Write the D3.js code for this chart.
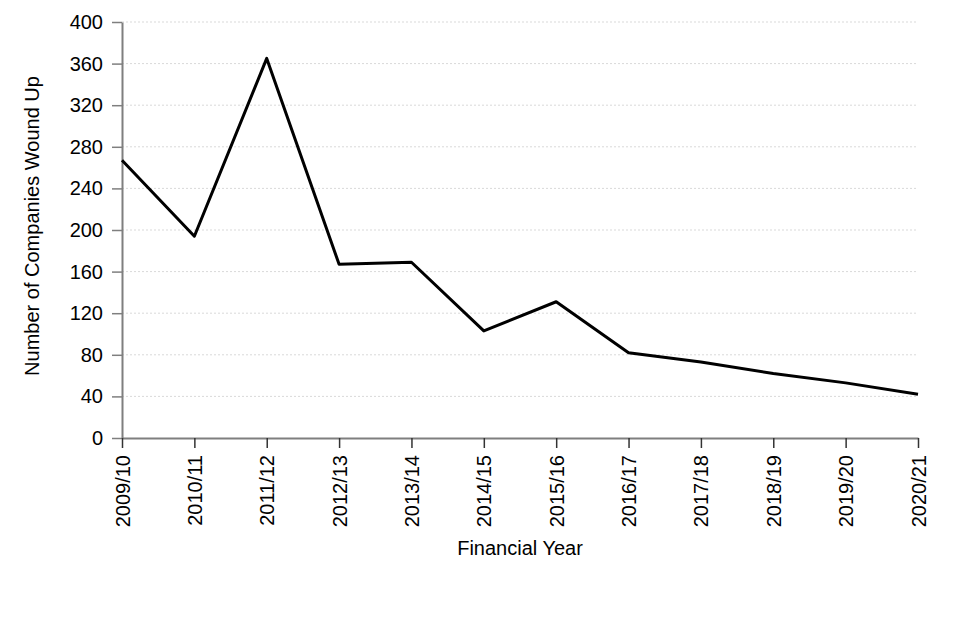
<!DOCTYPE html>
<html><head><meta charset="utf-8">
<script src="https://cdn.jsdelivr.net/npm/d3@7"></script>
<style>body{margin:0;background:#fff}svg{display:block}text{font-family:"Liberation Sans",Arial,sans-serif;fill:#000}</style>
</head><body><svg id="c" width="960" height="640"></svg>
<script>
const years = ["2009/10","2010/11","2011/12","2012/13","2013/14","2014/15","2015/16","2016/17","2017/18","2018/19","2019/20","2020/21"];
const companies = [267, 194, 365, 167, 169, 103, 131, 82, 73, 62, 53, 42];
const yTicks = [0,40,80,120,160,200,240,280,320,360,400];

const svg = d3.select("#c");
const L=122,R=918,T=22,B=438, fs=20;
const x = d3.scalePoint().domain(years).range([L,R]);
const y = d3.scaleLinear().domain([0,400]).range([B,T]);

svg.append("g").selectAll("line").data(yTicks.filter(d=>d>0)).join("line")
  .attr("x1",L).attr("x2",R).attr("y1",d=>y(d)).attr("y2",d=>y(d))
  .attr("stroke","#d9d9d9").attr("stroke-dasharray","2,2").attr("stroke-width",1);

const ya = svg.append("g").attr("transform",`translate(${L},0)`)
  .call(d3.axisLeft(y).tickValues(yTicks).tickSize(10).tickPadding(9).tickSizeOuter(0));
ya.attr("font-size",fs).attr("font-family","Liberation Sans, Arial, sans-serif");
ya.select(".domain").attr("stroke","#7f7f7f").attr("stroke-width",2);
ya.selectAll(".tick line").attr("stroke","#7f7f7f").attr("stroke-width",1.5);
ya.selectAll("text").attr("fill","#000");

const xa = svg.append("g").attr("transform",`translate(0,${B})`)
  .call(d3.axisBottom(x).tickSize(10).tickSizeOuter(0));
xa.attr("font-size",fs).attr("font-family","Liberation Sans, Arial, sans-serif");
xa.select(".domain").attr("stroke","#7f7f7f").attr("stroke-width",2);
xa.selectAll(".tick line").attr("stroke","#333").attr("stroke-width",1.5);
xa.selectAll("text").attr("fill","#000")
  .attr("transform","rotate(-90)").attr("text-anchor","end").attr("x",-17).attr("y",0).attr("dy","0.35em");

svg.append("path").datum(companies)
  .attr("fill","none").attr("stroke","#000").attr("stroke-width",3).attr("stroke-linejoin","round")
  .attr("d", d3.line().x((d,i)=>x(years[i])).y(d=>y(d)));

svg.append("text").attr("x",(L+R)/2).attr("y",555).attr("text-anchor","middle").attr("font-size",fs).text("Financial Year");
svg.append("text").attr("transform",`translate(39,${(T+B)/2 - 4}) rotate(-90)`).attr("text-anchor","middle").attr("font-size",fs).text("Number of Companies Wound Up");
</script></body></html>
